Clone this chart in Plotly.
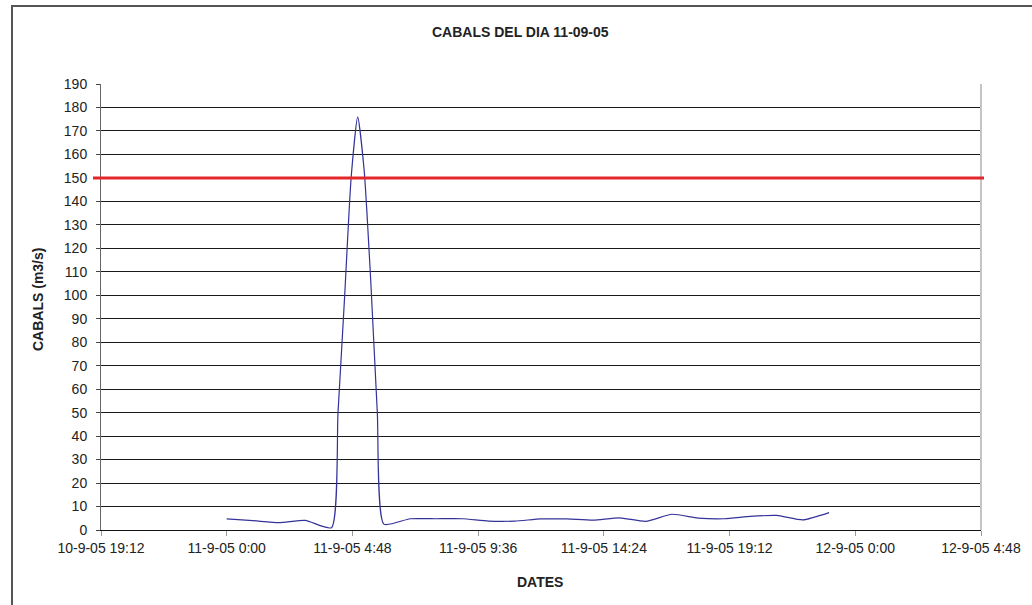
import plotly.graph_objects as go

# Flow readings for 11-09-2005 (m3/s); quarter-hourly during the flood peak
times = [
    "2005-09-11 00:00", "2005-09-11 01:00", "2005-09-11 02:00", "2005-09-11 03:00",
    "2005-09-11 04:00", "2005-09-11 04:15", "2005-09-11 04:30", "2005-09-11 04:45",
    "2005-09-11 05:00", "2005-09-11 05:15", "2005-09-11 05:30", "2005-09-11 05:45",
    "2005-09-11 06:00", "2005-09-11 07:00",
    "2005-09-11 08:00", "2005-09-11 09:00", "2005-09-11 10:00", "2005-09-11 11:00",
    "2005-09-11 12:00", "2005-09-11 13:00", "2005-09-11 14:00", "2005-09-11 15:00",
    "2005-09-11 16:00", "2005-09-11 17:00", "2005-09-11 18:00", "2005-09-11 19:00",
    "2005-09-11 20:00", "2005-09-11 21:00", "2005-09-11 22:00", "2005-09-11 23:00",
]
cabals = [
    4.7, 4.0, 3.1, 4.1,
    1.0, 50.0, 99.0, 150.0,
    176.0, 153.0, 106.0, 50.0,
    2.5, 4.8,
    4.8, 4.8, 3.8, 3.8,
    4.7, 4.7, 4.2, 5.2,
    3.7, 6.7, 5.1, 4.8,
    5.8, 6.2, 4.3, 7.4,
]

# Alarm threshold
llindar = 150

# Axis limits / ticks
x_range = ["2005-09-10 19:12", "2005-09-12 04:48"]
x_tick0 = "2005-09-10 19:12"
x_dtick = 4.8 * 3600 * 1000
y_ticks = list(range(0, 200, 10))

W, H = 1032, 605
L, R, T, B = 101, 51, 84, 75
pw, ph = W - L - R, H - T - B


def px(x):
    return (x - L) / pw


def py(y):
    return (H - B - y) / ph


FONT = "Liberation Sans, Arial, sans-serif"

fig = go.Figure()
fig.add_trace(go.Scatter(
    x=times, y=cabals, mode="lines",
    line=dict(color="#333399", width=1.2, shape="spline", smoothing=0.55),
    hoverinfo="x+y", showlegend=False,
))

fig.update_layout(
    width=W, height=H, autosize=False,
    margin=dict(l=L, r=R, t=T, b=B),
    paper_bgcolor="white", plot_bgcolor="white",
    font=dict(family=FONT, size=14, color="#222"),
    showlegend=False,
    xaxis=dict(
        type="date", range=x_range, tick0=x_tick0, dtick=x_dtick,
        tickformat="%-d-%-m-%y %-H:%M",
        showgrid=False, zeroline=False,
        showline=True, linecolor="#111", linewidth=1,
        ticks="outside", ticklen=5, tickcolor="#999", tickwidth=1,
        tickfont=dict(family=FONT, size=14, color="#222"),
    ),
    yaxis=dict(
        range=[0, 190], tickvals=y_ticks,
        showgrid=True, gridcolor="#1a1a1a", gridwidth=1,
        zeroline=False,
        showline=True, linecolor="#666", linewidth=1,
        ticks="outside", ticklen=4, tickcolor="#444", tickwidth=1,
        ticklabelstandoff=6,
        tickfont=dict(family=FONT, size=14, color="#222"),
    ),
)

shapes = [
    # chart frame
    dict(type="rect", xref="paper", yref="paper",
         x0=px(12), x1=px(1045), y0=py(620), y1=py(6),
         line=dict(color="#555", width=2), fillcolor="rgba(0,0,0,0)", layer="below"),
    # right edge of the plot area
    dict(type="line", xref="paper", yref="paper", x0=1, x1=1, y0=0, y1=1,
         line=dict(color="#c4c4c4", width=2)),
    # threshold line
    dict(type="line", xref="paper", yref="y", x0=px(93), x1=px(984), y0=llindar, y1=llindar,
         line=dict(color="#E3262A", width=3)),
]
fig.update_layout(shapes=shapes)

annotations = [
    dict(text="<b>CABALS DEL DIA 11-09-05</b>", x=px(520), y=py(32), xref="paper", yref="paper",
         showarrow=False, xanchor="center", yanchor="middle",
         font=dict(family=FONT, size=14, color="#222")),
    dict(text="<b>DATES</b>", x=px(540), y=py(582), xref="paper", yref="paper",
         showarrow=False, xanchor="center", yanchor="middle",
         font=dict(family=FONT, size=14, color="#222")),
    dict(text="<b>CABALS (m3/s)</b>", x=px(38), y=py(300), xref="paper", yref="paper",
         showarrow=False, xanchor="center", yanchor="middle", textangle=-90,
         font=dict(family=FONT, size=14, color="#222")),
]
fig.update_layout(annotations=annotations)

fig.write_html("out.html")
